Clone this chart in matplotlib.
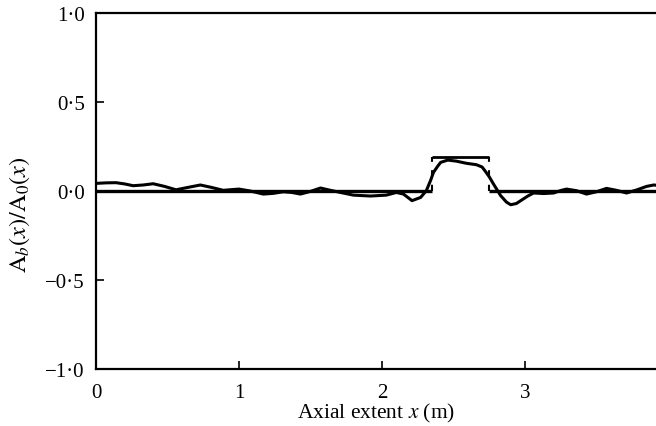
import matplotlib
matplotlib.use("Agg")
import matplotlib.pyplot as plt
from matplotlib.ticker import FixedLocator, FuncFormatter

plt.rcParams["font.family"] = ["Liberation Serif", "DejaVu Serif"]
plt.rcParams["mathtext.fontset"] = "stix"

# Target (true) profile: flat zero with a rectangular bump
step_left = 2.35
step_right = 2.75
step_height = 0.19
axis_end = 4.0

# Reconstructed profile A_b(x)/A_0(x)
recon_x = [0.00, 0.07, 0.14, 0.20, 0.26, 0.33, 0.40, 0.48, 0.56, 0.64, 0.73, 0.81,
           0.89, 0.95, 1.00, 1.08, 1.17, 1.24, 1.31, 1.37, 1.43, 1.50, 1.57, 1.64,
           1.71, 1.80, 1.92, 2.03, 2.10, 2.15, 2.21, 2.27, 2.31, 2.34, 2.36, 2.39,
           2.41, 2.46, 2.52, 2.59, 2.66, 2.70, 2.72, 2.75, 2.78, 2.83, 2.87, 2.90,
           2.94, 2.97, 3.02, 3.06, 3.13, 3.20, 3.25, 3.29, 3.36, 3.43, 3.50, 3.57,
           3.64, 3.71, 3.78, 3.85, 3.90, 3.95, 4.00]
recon_y = [0.043, 0.046, 0.047, 0.040, 0.030, 0.034, 0.041, 0.026, 0.007, 0.020, 0.034, 0.020,
           0.004, 0.008, 0.011, 0.000, -0.017, -0.013, -0.004, -0.008, -0.017, -0.002, 0.017, 0.004,
           -0.008, -0.023, -0.028, -0.023, -0.008, -0.017, -0.054, -0.036, 0.002, 0.060, 0.105, 0.140,
           0.161, 0.174, 0.168, 0.156, 0.148, 0.135, 0.114, 0.080, 0.039, -0.026, -0.062, -0.077,
           -0.070, -0.054, -0.028, -0.011, -0.014, -0.011, 0.003, 0.011, 0.002, -0.017, -0.004, 0.015,
           0.004, -0.011, 0.006, 0.026, 0.034, 0.030, 0.030]

x_ticks = [0, 1, 2, 3, 4]
y_ticks = [-1.0, -0.5, 0.0, 0.5, 1.0]

fig = plt.figure(figsize=(6.56, 4.27), dpi=100)
ax = fig.add_axes([0.1463, 0.1335, 0.872, 0.8335])

# true profile
ax.plot([0, step_left], [0, 0], color="black", lw=2.4, solid_capstyle="butt")
ax.plot([step_right, axis_end], [0, 0], color="black", lw=2.4, solid_capstyle="butt")
ax.plot([step_left, step_right], [step_height, step_height], color="black", lw=2.0,
        solid_capstyle="butt")
ax.plot([step_left, step_left], [0, step_height], color="black", lw=1.5,
        linestyle=(0, (3, 4)))
ax.plot([step_right, step_right], [0, step_height], color="black", lw=1.5,
        linestyle=(0, (3, 4)))

# reconstruction
ax.plot(recon_x, recon_y, color="black", lw=2.2, solid_joinstyle="round")

ax.set_xlim(0, axis_end)
ax.set_ylim(-1.0, 1.0)

for s in ax.spines.values():
    s.set_linewidth(1.6)

ax.xaxis.set_major_locator(FixedLocator(x_ticks))
ax.yaxis.set_major_locator(FixedLocator(y_ticks))
ax.xaxis.set_major_formatter(FuncFormatter(lambda v, p: f"{int(v)}"))
ax.yaxis.set_major_formatter(
    FuncFormatter(lambda v, p: f"{v:.1f}".replace("-", "\u2212").replace(".", "\u00b7")))
ax.tick_params(direction="in", length=6, width=1.2, labelsize=15,
               top=False, right=False)
ax.tick_params(axis="y", pad=8)
ax.tick_params(axis="x", pad=10)

ax.set_xlabel("Axial extent $x$ (m)", fontsize=15.5)
ax.set_ylabel(r"$\mathrm{A}_b(x)/\mathrm{A}_0(x)$", fontsize=17.5)
ax.xaxis.set_label_coords(0.49, -0.121)
ax.yaxis.set_label_coords(-0.133, 0.435)
ax.xaxis.label.set_verticalalignment("center")
ax.yaxis.label.set_verticalalignment("center")

fig.savefig("out.png", dpi=100)
